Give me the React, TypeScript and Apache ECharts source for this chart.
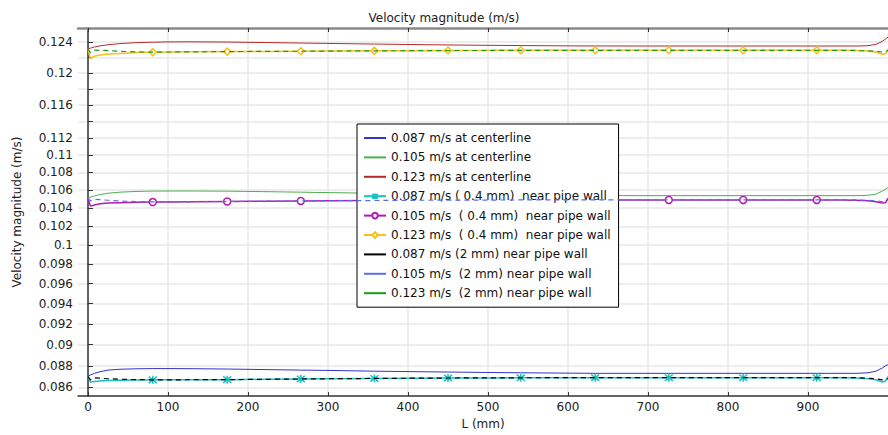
import React, { useEffect, useRef } from "react";
import * as echarts from "echarts";

const FONT = "DejaVu Sans";

// shared abscissa (mm)
const X = [0, 3, 8, 15, 25, 40, 60, 81, 100, 130, 174, 220, 266, 300, 358, 400, 450, 500, 541, 600, 634, 700, 726, 800, 819, 870, 911, 940, 960, 975, 985, 993, 997, 1000];
const markerX = [81, 174, 266, 358, 450, 541, 634, 726, 819, 911];

const c087 = [0.087, 0.08715, 0.0873, 0.08745, 0.0876, 0.08768, 0.08772, 0.08774, 0.08774, 0.08773, 0.0877, 0.08765, 0.0876, 0.08757, 0.0875, 0.08746, 0.08742, 0.08738, 0.08735, 0.08732, 0.0873, 0.0873, 0.0873, 0.0873, 0.0873, 0.0873, 0.0873, 0.0873, 0.0873, 0.08735, 0.0875, 0.0878, 0.088, 0.0881];
const c105 = [0.1051, 0.1052, 0.10535, 0.1055, 0.10565, 0.10577, 0.10585, 0.10589, 0.1059, 0.1059, 0.10588, 0.10583, 0.10577, 0.10572, 0.10565, 0.1056, 0.10553, 0.10548, 0.10544, 0.1054, 0.10539, 0.10538, 0.10538, 0.10538, 0.10538, 0.10538, 0.10538, 0.10538, 0.10538, 0.10542, 0.10555, 0.1059, 0.1061, 0.1063];
const c123 = [0.1231, 0.1232, 0.12335, 0.1235, 0.12365, 0.1238, 0.12392, 0.12398, 0.12402, 0.12403, 0.124, 0.12394, 0.12387, 0.12382, 0.12374, 0.12368, 0.12362, 0.12357, 0.12354, 0.1235, 0.12349, 0.12348, 0.12348, 0.12348, 0.12348, 0.12348, 0.12348, 0.12348, 0.12348, 0.12352, 0.1237, 0.1241, 0.1244, 0.12465];

const w04_087 = [0.087, 0.0865, 0.08655, 0.0866, 0.08664, 0.08667, 0.08669, 0.0867, 0.0867, 0.08671, 0.08672, 0.08675, 0.08678, 0.0868, 0.08683, 0.08685, 0.08687, 0.08688, 0.08689, 0.0869, 0.0869, 0.0869, 0.0869, 0.0869, 0.0869, 0.0869, 0.0869, 0.0869, 0.08688, 0.0868, 0.0867, 0.0865, 0.0866, 0.087];
const w04_105 = [0.1051, 0.10422, 0.10435, 0.10447, 0.10455, 0.1046, 0.10464, 0.10467, 0.10468, 0.1047, 0.10473, 0.10476, 0.10479, 0.10481, 0.10484, 0.10486, 0.10488, 0.10489, 0.1049, 0.1049, 0.1049, 0.1049, 0.1049, 0.1049, 0.1049, 0.1049, 0.1049, 0.1049, 0.10488, 0.1048, 0.1047, 0.10455, 0.1046, 0.1051];
const w04_123 = [0.1231, 0.12186, 0.12215, 0.12232, 0.12243, 0.12252, 0.12262, 0.12268, 0.1227, 0.12272, 0.12275, 0.12278, 0.1228, 0.12282, 0.12285, 0.12287, 0.12289, 0.1229, 0.12292, 0.12292, 0.12292, 0.12292, 0.12292, 0.12292, 0.12292, 0.12292, 0.12292, 0.12292, 0.1229, 0.12282, 0.1227, 0.12241, 0.1225, 0.1231];

const w2_087 = [0.087, 0.0867, 0.08688, 0.08685, 0.0868, 0.08676, 0.08672, 0.0867, 0.0867, 0.08671, 0.08672, 0.08675, 0.08678, 0.0868, 0.08683, 0.08685, 0.08687, 0.08688, 0.08689, 0.0869, 0.0869, 0.0869, 0.0869, 0.0869, 0.0869, 0.0869, 0.0869, 0.0869, 0.0869, 0.08685, 0.0868, 0.0867, 0.08675, 0.0868];
const w2_105 = [0.1051, 0.1048, 0.10498, 0.10493, 0.10487, 0.10479, 0.10472, 0.10468, 0.10468, 0.1047, 0.10473, 0.10476, 0.10479, 0.10481, 0.10484, 0.10486, 0.10488, 0.10489, 0.1049, 0.1049, 0.1049, 0.1049, 0.1049, 0.1049, 0.1049, 0.1049, 0.1049, 0.1049, 0.1049, 0.10486, 0.1048, 0.1047, 0.1048, 0.1049];
const w2_123 = [0.1231, 0.12262, 0.12295, 0.12292, 0.12288, 0.1228, 0.12272, 0.12268, 0.1227, 0.12272, 0.12275, 0.12278, 0.1228, 0.12282, 0.12285, 0.12287, 0.12289, 0.1229, 0.12292, 0.12292, 0.12292, 0.12292, 0.12292, 0.12292, 0.12292, 0.12292, 0.12292, 0.12292, 0.1229, 0.12285, 0.1228, 0.1227, 0.12275, 0.1229];

const yTicks = [0.086, 0.088, 0.09, 0.092, 0.094, 0.096, 0.098, 0.1, 0.102, 0.104, 0.106, 0.108, 0.11, 0.112, 0.114, 0.116, 0.118, 0.12, 0.122, 0.124];
const yLabels = [0.086, 0.088, 0.09, 0.092, 0.094, 0.096, 0.098, 0.1, 0.102, 0.104, 0.106, 0.108, 0.11, 0.112, 0.116, 0.12, 0.124];
const xTicks = [0, 100, 200, 300, 400, 500, 600, 700, 800, 900];

const names = [
  "0.087 m/s at centerline",
  "0.105 m/s at centerline",
  "0.123 m/s at centerline",
  "0.087 m/s ( 0.4 mm)  near pipe wall",
  "0.105 m/s  ( 0.4 mm)  near pipe wall",
  "0.123 m/s  ( 0.4 mm)  near pipe wall",
  "0.087 m/s (2 mm) near pipe wall",
  "0.105 m/s  (2 mm) near pipe wall",
  "0.123 m/s  (2 mm) near pipe wall",
];
const markedNames = [names[3], names[4], names[5]];

const ASTERISK = "path://M1,1L9,9M9,1L1,9M5,0L5,10";

function plain(name: string, ys: number[], color: string, width: number, dashed: boolean) {
  return {
    name,
    type: "line",
    data: X.map((x, i) => [x, ys[i]]),
    symbol: "none",
    showSymbol: false,
    lineStyle: { color, width, type: dashed ? [5, 4] : "solid" },
    itemStyle: { color },
    z: dashed ? 4 : 2,
  };
}

function marked(name: string, ys: number[], color: string, symbol: string, size: number) {
  return {
    name,
    type: "line",
    symbol,
    symbolSize: size,
    showSymbol: true,
    showAllSymbol: true,
    data: X.map((x, i) => (markerX.includes(x) ? [x, ys[i]] : { value: [x, ys[i]], symbol: "none" })),
    lineStyle: { color, width: 1.5 },
    itemStyle: { color: symbol === ASTERISK ? color : "#fff", borderColor: color, borderWidth: 1.5 },
    z: 3,
  };
}

export default function App() {
  const ref = useRef<HTMLDivElement>(null);
  useEffect(() => {
    const chart = echarts.init(ref.current!, null, { renderer: "svg" });
    const axisText = { fontFamily: FONT, fontSize: 12, color: "#222" };
    chart.setOption({
      animation: false,
      backgroundColor: "#fff",
      textStyle: { fontFamily: FONT },
      title: {
        text: "Velocity magnitude (m/s)",
        left: "center",
        top: 7,
        textStyle: { fontFamily: FONT, fontSize: 12, fontWeight: "normal", color: "#222" },
      },
      grid: { left: 78, right: 0, top: 28, bottom: 33 },
      legend: {
        orient: "vertical",
        left: 357,
        top: 124,
        padding: [8, 8, 8, 6],
        itemGap: 7.4,
        itemWidth: 22,
        itemHeight: 7,
        backgroundColor: "#fff",
        borderColor: "#000",
        borderWidth: 1,
        borderRadius: 0,
        textStyle: { fontFamily: FONT, fontSize: 12, color: "#111" },
        lineStyle: { type: "solid" },
        data: names.map((n) => (markedNames.includes(n) ? n : { name: n, itemStyle: { opacity: 0 } })),
      },
      xAxis: [
        {
          type: "value",
          min: -12.5,
          max: 1000,
          name: "L (mm)",
          nameLocation: "middle",
          nameGap: 20,
          nameTextStyle: axisText,
          axisLine: { lineStyle: { color: "#333", width: 1.5 } },
          axisTick: { inside: true, length: 4, customValues: xTicks, lineStyle: { color: "#333" } },
          axisLabel: { ...axisText, margin: 5, customValues: xTicks },
          splitLine: { show: true, lineStyle: { color: "#e8e8e8", width: 1.5 } },
        },
        {
          type: "value",
          position: "top",
          min: -12.5,
          max: 1000,
          axisLine: { show: true, lineStyle: { color: "#8a8a8a", width: 2.5 } },
          axisTick: { show: true, inside: true, length: 4, customValues: xTicks, lineStyle: { color: "#333" } },
          axisLabel: { show: false },
          splitLine: { show: false },
        },
      ],
      yAxis: {
        type: "log",
        logBase: 10,
        min: 0.08522,
        max: 0.12586,
        name: "Velocity magnitude (m/s)",
        nameLocation: "middle",
        nameGap: 55,
        nameTextStyle: axisText,
        axisLine: { show: true, lineStyle: { color: "#333", width: 1.5 } },
        axisTick: { show: true, inside: true, length: 5, customValues: yTicks, lineStyle: { color: "#333" } },
        axisLabel: {
          ...axisText,
          margin: 5,
          customValues: yLabels,
          formatter: (v: number) => String(parseFloat(Number(v).toFixed(3))),
        },
        splitLine: { show: true, lineStyle: { color: "#e8e8e8", width: 1.5 } },
        minorTick: { show: false },
      },
      series: [
        plain(names[0], c087, "#3434c8", 1, false),
        plain(names[1], c105, "#4cb04c", 1, false),
        plain(names[2], c123, "#b52a2a", 1, false),
        marked(names[3], w04_087, "#17c2c2", ASTERISK, 8),
        marked(names[4], w04_105, "#b01cb0", "circle", 7),
        marked(names[5], w04_123, "#f5c116", "diamond", 7),
        plain(names[6], w2_087, "#000000", 1.2, true),
        plain(names[7], w2_105, "#5a6ee6", 1.2, true),
        plain(names[8], w2_123, "#1a9a1a", 1.2, true),
      ],
    });
    return () => chart.dispose();
  }, []);
  return <div ref={ref} style={{ position: "fixed", left: 0, top: 0, width: 888, height: 435 }} />;
}
